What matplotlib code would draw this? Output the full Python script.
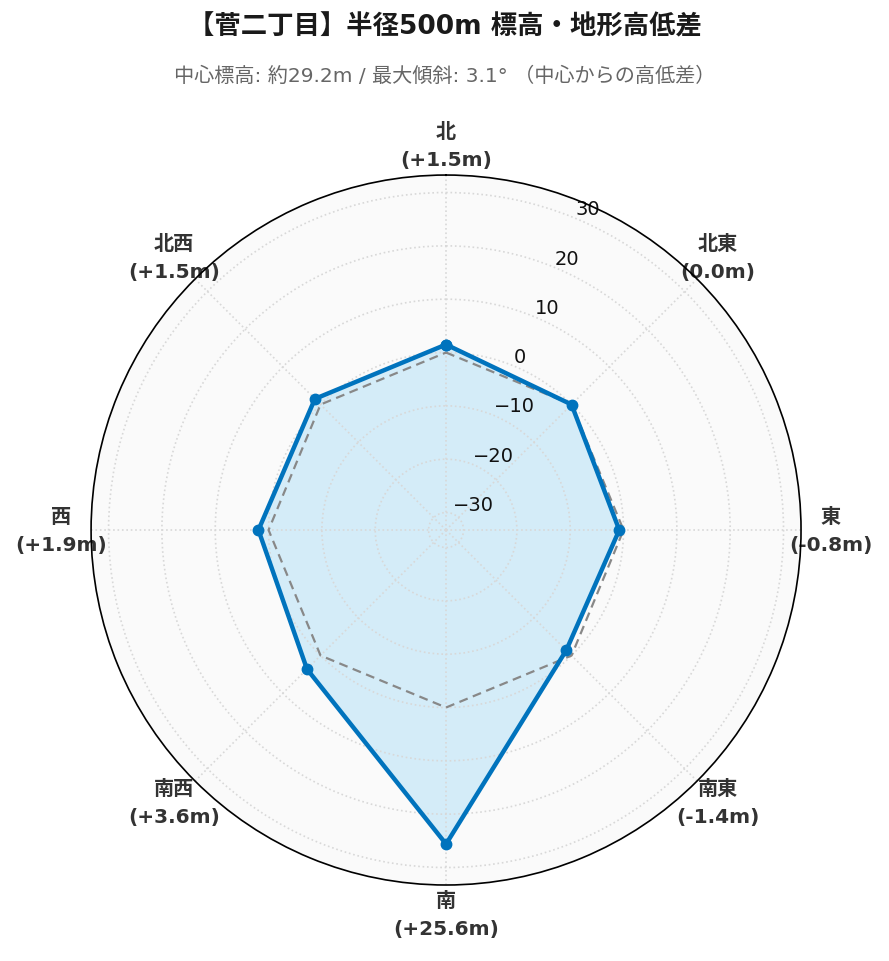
import numpy as np
import matplotlib
matplotlib.use('Agg')
import matplotlib.pyplot as plt

plt.rcParams['font.family'] = ['DejaVu Sans', 'Noto Sans CJK JP']

# 方位と中心からの高低差 (m)
directions = ['北', '北東', '東', '南東', '南', '南西', '西', '北西']
diffs = [1.5, 0.0, -0.8, -1.4, 25.6, 3.6, 1.9, 1.5]
r_ticks = [-30, -20, -10, 0, 10, 20, 30]

title = '【菅二丁目】半径500m 標高・地形高低差'
subtitle = '中心標高: 約29.2m / 最大傾斜: 3.1° （中心からの高低差）'

line_color = '#0073bd'
fill_color = '#d4ecf8'

angles = np.linspace(0, 2 * np.pi, len(directions), endpoint=False)
ang_closed = np.append(angles, angles[0])
vals_closed = np.append(diffs, diffs[0])
zero_closed = np.zeros_like(ang_closed)


def fmt_label(d, v):
    if v == 0:
        return f'{d}\n(0.0m)'
    return f'{d}\n({v:+.1f}m)'


fig = plt.figure(figsize=(8.89, 9.62), dpi=100)
ax = fig.add_axes([0.1024, 0.079, 0.7987, 0.738], projection='polar')
ax.set_facecolor('#fafafa')
ax.set_theta_zero_location('N')
ax.set_theta_direction(-1)

rmax = max(abs(v) for v in diffs) * 1.3
ax.set_ylim(-rmax, rmax)

ax.fill(ang_closed, vals_closed, color=fill_color, zorder=1)
ax.plot(ang_closed, zero_closed, color='#888888', lw=1.6, ls=(0, (4, 2.5)), zorder=2)
ax.plot(ang_closed, vals_closed, color=line_color, lw=3.2, marker='o',
        markersize=7.5, zorder=3)

ax.set_xticks(angles)
ax.set_xticklabels([fmt_label(d, v) for d, v in zip(directions, diffs)],
                   fontsize=14.5, fontweight='bold', color='#333333',
                   linespacing=1.6)
ax.tick_params(axis='x', pad=11)
ax.set_yticks(r_ticks)
ax.set_yticklabels([f'{t}'.replace('-', '\u2212') for t in r_ticks],
                   fontsize=14, color='#111111')
ax.set_rlabel_position(22.5)

ax.grid(True, color='#d8d8d8', ls=':', lw=1.2)
ax.spines['polar'].set_color('black')
ax.spines['polar'].set_linewidth(1.2)
ax.spines['polar'].set_zorder(5)

fig.text(0.5, 0.971, title, ha='center', va='center', fontsize=19,
         fontweight='bold', color='#1a1a1a')
fig.text(0.5, 0.921, subtitle, ha='center', va='center', fontsize=14.5,
         color='#666666')

fig.savefig('out.png', dpi=100)
